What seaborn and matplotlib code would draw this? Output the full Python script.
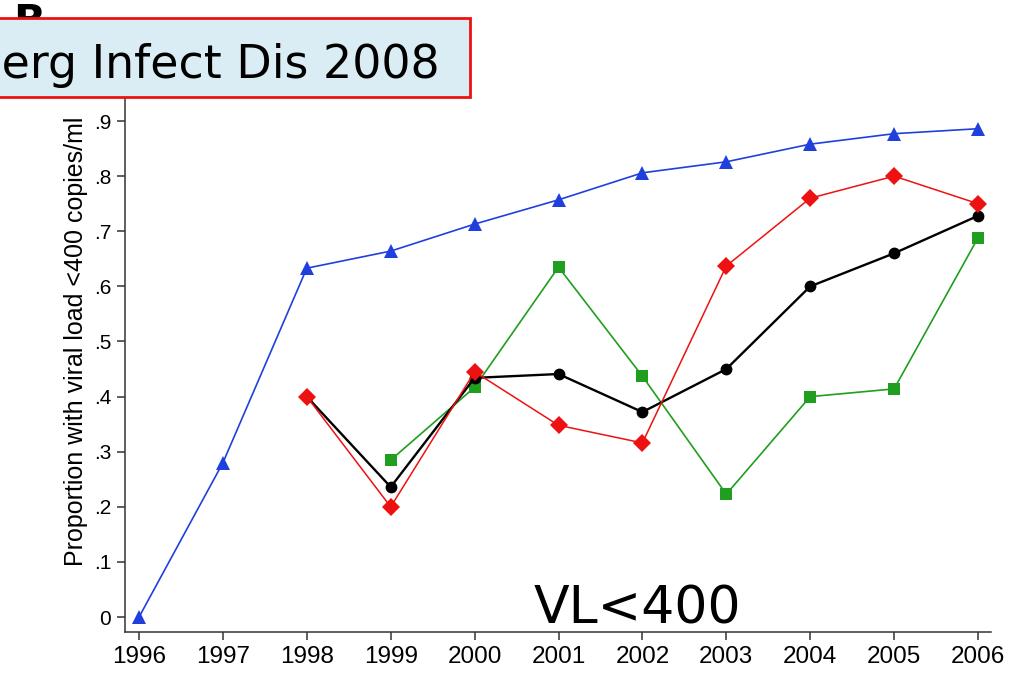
import matplotlib
matplotlib.use("Agg")
import matplotlib.pyplot as plt
from matplotlib.patches import Rectangle
import seaborn as sns

# Data
years_blue = [1996, 1997, 1998, 1999, 2000, 2001, 2002, 2003, 2004, 2005, 2006]
vals_blue = [0.0, 0.28, 0.633, 0.664, 0.713, 0.757, 0.806, 0.826, 0.858, 0.877, 0.886]

years_red = [1998, 1999, 2000, 2001, 2002, 2003, 2004, 2005, 2006]
vals_red = [0.40, 0.20, 0.445, 0.348, 0.316, 0.637, 0.76, 0.80, 0.75]

years_black = [1998, 1999, 2000, 2001, 2002, 2003, 2004, 2005, 2006]
vals_black = [0.40, 0.236, 0.434, 0.441, 0.372, 0.45, 0.60, 0.66, 0.728]

years_green = [1999, 2000, 2001, 2002, 2003, 2004, 2005, 2006]
vals_green = [0.285, 0.417, 0.635, 0.437, 0.223, 0.40, 0.414, 0.688]

x_ticks = list(range(1996, 2007))
y_ticks = [0, 0.1, 0.2, 0.3, 0.4, 0.5, 0.6, 0.7, 0.8, 0.9]
y_tick_labels = ["0", ".1", ".2", ".3", ".4", ".5", ".6", ".7", ".8", ".9"]

sns.set_style("ticks")
plt.rcParams["font.family"] = ["Liberation Sans", "DejaVu Sans"]
plt.rcParams["text.color"] = "black"
plt.rcParams["xtick.color"] = "#333333"
plt.rcParams["ytick.color"] = "#333333"
plt.rcParams["xtick.labelcolor"] = "black"
plt.rcParams["ytick.labelcolor"] = "black"
plt.rcParams["axes.labelcolor"] = "black"

fig = plt.figure(figsize=(10.11, 6.73), dpi=100)
# plot region runs up behind the citation box (y axis goes to ~1)
ax = fig.add_axes([125 / 1011, 41 / 673, 866 / 1011, 581 / 673])

sns.lineplot(x=years_blue, y=vals_blue, ax=ax, color="#2040dd", marker="^",
             markersize=9.5, markeredgewidth=0, linewidth=1.2, zorder=3)
sns.lineplot(x=years_green, y=vals_green, ax=ax, color="#1f9e1f", marker="s",
             markersize=9, markeredgewidth=0, linewidth=1.2, zorder=4)
sns.lineplot(x=years_black, y=vals_black, ax=ax, color="black", marker="o",
             markersize=8.5, markeredgewidth=0, linewidth=1.7, zorder=5)
sns.lineplot(x=years_red, y=vals_red, ax=ax, color="#ee1111", marker="D",
             markersize=9, markeredgewidth=0, linewidth=1.1, zorder=6)

ax.set_xlim(1995.833, 2006.155)
ax.set_ylim(-0.027, 1.027)
ax.set_xticks(x_ticks)
ax.set_xticklabels([str(y) for y in x_ticks], fontsize=17.5)
ax.set_yticks(y_ticks)
ax.set_yticklabels(y_tick_labels, fontsize=15)
ax.tick_params(axis="both", direction="out", length=6, width=1.1, pad=4)
for s in ["left", "bottom"]:
    ax.spines[s].set_linewidth(1.1)
    ax.spines[s].set_color("#333333")
sns.despine(ax=ax)
ax.set_xlabel("")
ax.set_ylabel("Proportion with viral load <400 copies/ml", fontsize=18, labelpad=4)

# panel letter, mostly hidden behind the citation box
fig.text(13 / 1011, 1 - 2 / 673, "B", fontsize=30, fontweight="bold",
         va="top", ha="left", family="DejaVu Sans", zorder=1)

# citation box cut off at the left edge
box = Rectangle((-20 / 1011, 1 - 97 / 673), 490 / 1011, 79 / 673,
                transform=fig.transFigure, facecolor="#daedf4",
                edgecolor="#ee1111", linewidth=2, zorder=5)
fig.patches.append(box)
fig.text(440 / 1011, 1 - 78 / 673, "Emerg Infect Dis 2008", fontsize=33,
         ha="right", va="baseline", family="DejaVu Sans", zorder=6)

fig.text(637 / 1011, 50 / 673, "VL<400", fontsize=37.5, ha="center",
         va="baseline", family="DejaVu Sans", zorder=6)

fig.savefig("out.png", dpi=100)
